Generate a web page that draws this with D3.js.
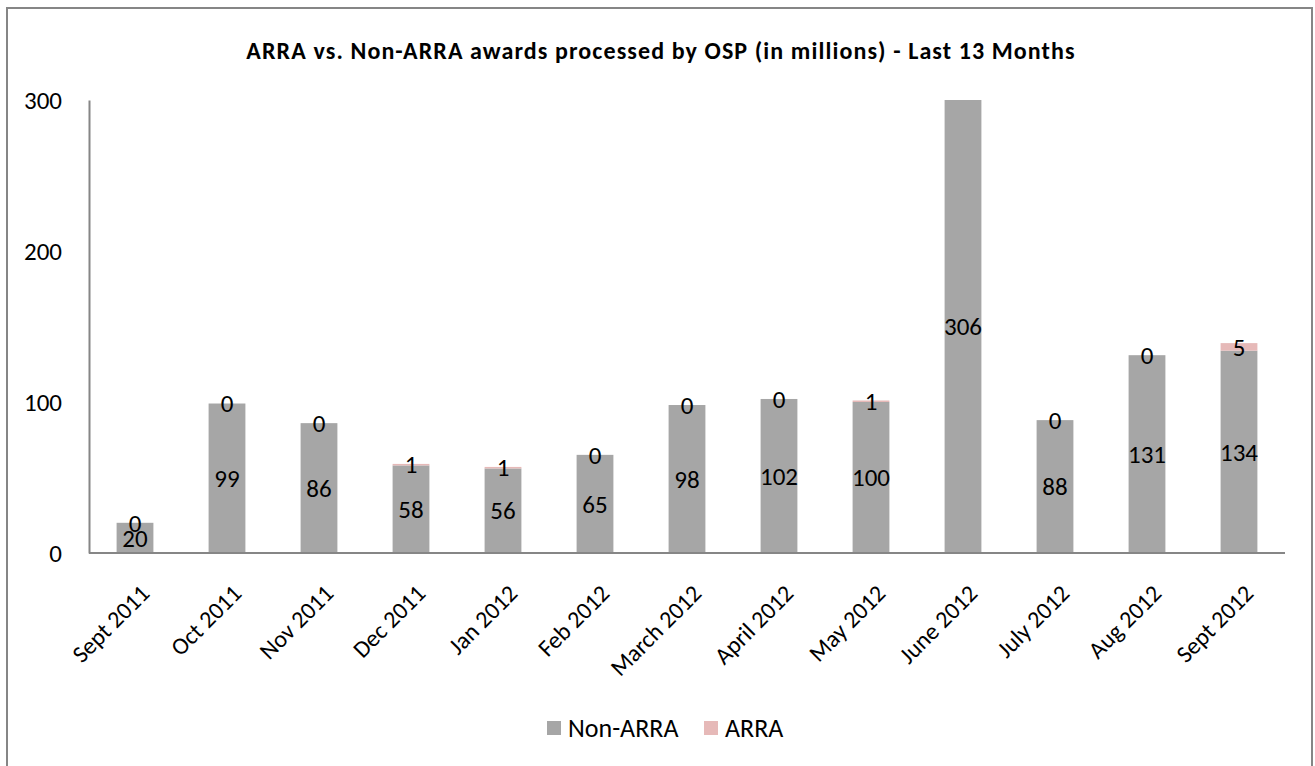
<!DOCTYPE html>
<html>
<head>
<meta charset="utf-8">
<script src="https://cdn.jsdelivr.net/npm/d3@7"></script>
<style>
  body { margin: 0; background: #fff; }
  svg { display: block; font-family: Carlito, Calibri, Lato, sans-serif; }
</style>
</head>
<body>
<svg id="chart" width="1315" height="766"></svg>
<script>
const months = ['Sept 2011', 'Oct 2011', 'Nov 2011', 'Dec 2011', 'Jan 2012', 'Feb 2012', 'March 2012',
  'April 2012', 'May 2012', 'June 2012', 'July 2012', 'Aug 2012', 'Sept 2012'];
const nonArra = [20, 99, 86, 58, 56, 65, 98, 102, 100, 306, 88, 131, 134];
const arra = [0, 0, 0, 1, 1, 0, 0, 0, 1, 0, 0, 0, 5];
const yTicks = [0, 100, 200, 300];
const seriesNames = ['Non-ARRA', 'ARRA'];
const colors = ['#a6a6a6', '#e6b9b8'];

const svg = d3.select('#chart');
const plot = { left: 89, right: 1285, top: 100, bottom: 553 };

// outer chart border
svg.append('rect')
  .attr('x', 7).attr('y', 8).attr('width', 1305).attr('height', 800)
  .attr('fill', 'none').attr('stroke', '#868686').attr('stroke-width', 2);

svg.append('text')
  .attr('x', 661).attr('y', 59)
  .attr('text-anchor', 'middle')
  .style('font-size', '24px').style('font-weight', 'bold').style('letter-spacing', '1.1px')
  .text('ARRA vs. Non-ARRA awards processed by OSP (in millions) - Last 13 Months');

const x = d3.scaleBand().domain(months).range([plot.left, plot.right]).paddingInner(0.6).paddingOuter(0.3);
const y = d3.scaleLinear().domain([0, 300]).range([plot.bottom, plot.top]);

const rows = months.map((m, i) => ({ month: m, 'Non-ARRA': nonArra[i], 'ARRA': arra[i] }));
const stacked = d3.stack().keys(seriesNames)(rows);

svg.append('clipPath').attr('id', 'plotClip')
  .append('rect')
  .attr('x', plot.left).attr('y', plot.top)
  .attr('width', plot.right - plot.left).attr('height', plot.bottom - plot.top);

const barsG = svg.append('g').attr('clip-path', 'url(#plotClip)');
stacked.forEach((layer, li) => {
  barsG.selectAll(null).data(layer).join('rect')
    .attr('x', d => x(d.data.month))
    .attr('width', x.bandwidth())
    .attr('y', d => y(d[1]))
    .attr('height', d => y(d[0]) - y(d[1]))
    .attr('fill', colors[li]);
});

// axes
const yAxis = svg.append('g').attr('transform', `translate(${plot.left},0)`)
  .call(d3.axisLeft(y).tickValues(yTicks).tickSize(0).tickPadding(27))
  .attr('font-family', null).attr('font-size', null);
yAxis.select('.domain').attr('stroke', '#868686').attr('stroke-width', 2);
yAxis.selectAll('text').style('font-size', '25px').attr('fill', '#000');

const xAxis = svg.append('g').attr('transform', `translate(0,${plot.bottom})`)
  .call(d3.axisBottom(x).tickSize(0).tickFormat(''));
xAxis.select('.domain').attr('stroke', '#868686').attr('stroke-width', 2).attr('d', `M${plot.left},0H${plot.right}`);

svg.append('g').selectAll('text').data(months).join('text')
  .attr('transform', d => `translate(${x(d) + x.bandwidth() / 2 + 10},${plot.bottom + 36}) rotate(-45)`)
  .attr('text-anchor', 'end')
  .attr('dy', '0.35em')
  .style('font-size', '24px')
  .text(d => d);

// data labels, centered on the visible part of each segment
const labelsG = svg.append('g').style('font-size', '25px').attr('text-anchor', 'middle');
stacked.forEach(layer => {
  labelsG.selectAll(null).data(layer.filter(d => d[0] <= 300)).join('text')
    .attr('x', d => x(d.data.month) + x.bandwidth() / 2)
    .attr('y', d => (y(Math.min(d[0], 300)) + y(Math.min(d[1], 300))) / 2)
    .attr('dy', '0.35em')
    .text(d => d[1] - d[0]);
});

// legend
const legend = svg.append('g').attr('transform', 'translate(547,721)');
const legendX = [0, 157];
seriesNames.forEach((name, i) => {
  const g = legend.append('g').attr('transform', `translate(${legendX[i]},0)`);
  g.append('rect').attr('width', 14).attr('height', 14).attr('fill', colors[i]);
  g.append('text').attr('x', 21).attr('y', 7).attr('dy', '0.35em').style('font-size', '26px').text(name);
});
</script>
</body>
</html>
